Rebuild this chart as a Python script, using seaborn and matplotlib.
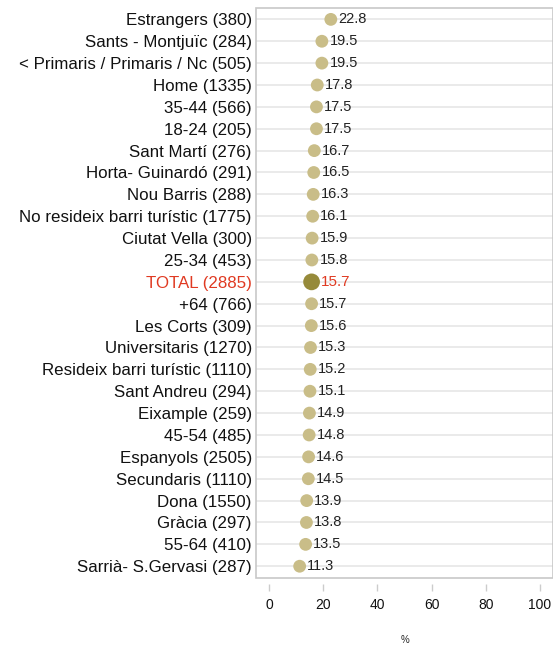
import matplotlib.pyplot as plt
import matplotlib.patches as mpatches
import pandas as pd
import seaborn as sns

labels = [
    "Estrangers (380)", "Sants - Montjuïc (284)", "< Primaris / Primaris / Nc (505)",
    "Home (1335)", "35-44 (566)", "18-24 (205)", "Sant Martí (276)",
    "Horta- Guinardó (291)", "Nou Barris (288)", "No resideix barri turístic (1775)",
    "Ciutat Vella (300)", "25-34 (453)", "TOTAL (2885)", "+64 (766)",
    "Les Corts (309)", "Universitaris (1270)", "Resideix barri turístic (1110)",
    "Sant Andreu (294)", "Eixample (259)", "45-54 (485)", "Espanyols (2505)",
    "Secundaris (1110)", "Dona (1550)", "Gràcia (297)", "55-64 (410)",
    "Sarrià- S.Gervasi (287)",
]
values = [
    22.8, 19.5, 19.5, 17.8, 17.5, 17.5, 16.7, 16.5, 16.3, 16.1, 15.9, 15.8,
    15.7, 15.7, 15.6, 15.3, 15.2, 15.1, 14.9, 14.8, 14.6, 14.5, 13.9, 13.8,
    13.5, 11.3,
]
total_label = "TOTAL (2885)"
x_ticks = [0, 20, 40, 60, 80, 100]

df = pd.DataFrame({"label": labels, "value": values})
df["pos"] = range(len(df))
df["kind"] = ["total" if l == total_label else "group" for l in df["label"]]

sns.set_theme(style="white")
plt.rcParams["font.family"] = ["Liberation Sans", "DejaVu Sans"]

fig = plt.figure(figsize=(5.53, 6.49), dpi=100)
ax = fig.add_axes([0.463, 0.109, 0.537, 0.879])

n = len(df)
for p in df["pos"]:
    ax.axhline(p, color="#e6e6e6", lw=1.2, zorder=0)

others = df[df["kind"] == "group"]
tot = df[df["kind"] == "total"]
sns.scatterplot(data=others, x="value", y="pos", color="#c9bd88", s=85,
                edgecolor="none", ax=ax, zorder=3, legend=False)
sns.scatterplot(data=tot, x="value", y="pos", color="#968a3a", s=145,
                edgecolor="none", ax=ax, zorder=3, legend=False)

for _, r in df.iterrows():
    is_total = r["kind"] == "total"
    ax.annotate(f"{r['value']:.1f}", (r["value"], r["pos"]),
                xytext=(7 if is_total else 5.5, 0),
                textcoords="offset points", va="center", ha="left",
                fontsize=11 if is_total else 10.5,
                color="#e03a22" if is_total else "#222222")

ax.set_xlim(-4.8, 104.8)
ax.set_ylim(n - 1 + 0.55, -0.53)
ax.set_yticks(df["pos"])
ax.set_yticklabels(df["label"])
ax.tick_params(axis="y", length=0, pad=3, labelsize=12.2)
for t in ax.get_yticklabels():
    t.set_color("#e03a22" if t.get_text() == total_label else "#111111")

ax.set_xticks(x_ticks)
ax.set_xticklabels([str(v) for v in x_ticks])
ax.tick_params(axis="x", direction="out", length=5, width=1, color="#cccccc",
               pad=5, bottom=True, labelsize=10, labelcolor="#111111")
ax.spines["bottom"].set_position(("outward", 4))
ax.spines["bottom"].set_visible(False)
for s in ["left", "top", "right"]:
    ax.spines[s].set_visible(False)
frame = mpatches.Rectangle((0, 0), 1, 1, transform=ax.transAxes, fill=False,
                           edgecolor="#c8c8c8", lw=1.2, clip_on=False, zorder=5)
ax.add_patch(frame)

ax.set_xlabel("%", fontsize=7, labelpad=17)
ax.set_ylabel("")

fig.savefig("out.png", dpi=100)
